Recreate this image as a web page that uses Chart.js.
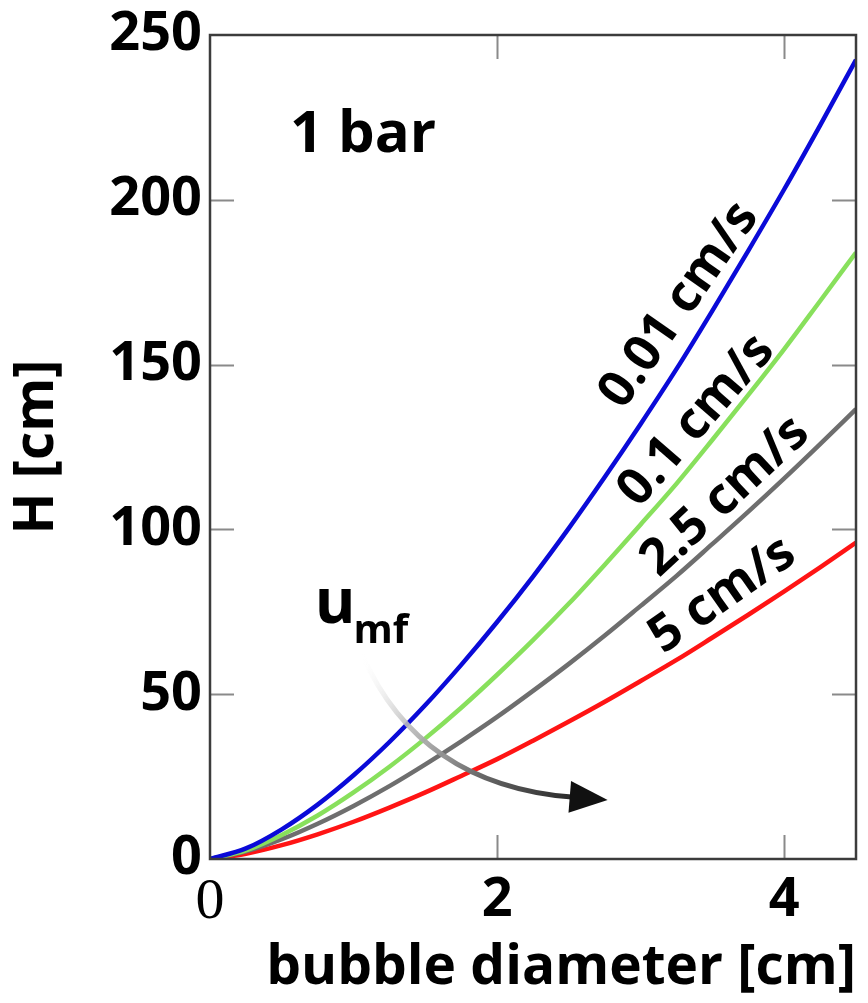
<!DOCTYPE html>
<html>
<head>
<meta charset="utf-8">
<script src="https://cdn.jsdelivr.net/npm/chart.js@4.4.1/dist/chart.umd.min.js"></script>
<style>
  html, body { margin: 0; padding: 0; background: #fff; }
  canvas { display: block; }
</style>
</head>
<body>
<canvas id="chart" width="868" height="1003"></canvas>
<script>
// bubble diameter [cm]
const XS = [0, 0.25, 0.5, 0.75, 1, 1.25, 1.5, 1.75, 2, 2.25, 2.5, 2.75, 3, 3.25, 3.5, 3.75, 4, 4.25, 4.5];
// H [cm] for each u_mf
const H_001 = [0, 3.2, 9.0, 16.5, 25.4, 35.5, 46.7, 58.9, 71.9, 85.7, 100.4, 115.9, 132.0, 148.7, 166.4, 184.6, 203.2, 222.6, 242.5];
const H_01  = [0, 2.6, 7.3, 13.2, 20.2, 28.0, 36.6, 45.9, 55.9, 66.4, 77.5, 89.3, 101.5, 113.9, 127.2, 140.8, 154.7, 169.3, 184];
const H_25  = [0, 2.3, 6.0, 10.7, 16.1, 22.1, 28.7, 35.7, 43.1, 51.0, 59.2, 67.8, 76.8, 85.9, 95.6, 105.4, 115.5, 125.9, 136.5];
const H_5   = [0, 1.6, 4.2, 7.5, 11.3, 15.6, 20.2, 25.2, 30.3, 35.9, 41.7, 47.7, 54.0, 60.4, 67.2, 74.1, 81.2, 88.5, 96];

const SERIES_LABELS = ['0.01 cm/s', '0.1 cm/s', '2.5 cm/s', '5 cm/s'];
const X_TICKS = [0, 2, 4];
const Y_TICKS = [0, 50, 100, 150, 200, 250];

const COLORS = ['#0a0ad8', '#88e05c', '#6e6e6e', '#ff1414'];
// label anchors in data units + rotation (deg)
const LABEL_POS = [[3.27, 168, -55], [3.39, 133, -49], [3.59, 110, -43], [3.57, 80, -35]];

const SANS = '"Open Sans", "Noto Sans", sans-serif';
const pts = ys => XS.map((x, i) => ({ x, y: ys[i] }));

const frame = {
  id: 'frame',
  afterDatasetsDraw(chart) {
    const { ctx, chartArea: a, scales: { x, y } } = chart;
    ctx.save();
    // inner ticks on all four sides
    ctx.strokeStyle = '#8a8a8a';
    ctx.lineWidth = 2;
    ctx.beginPath();
    Y_TICKS.slice(1, -1).forEach(v => {
      const py = Math.round(y.getPixelForValue(v)) + 0.5;
      ctx.moveTo(a.left, py); ctx.lineTo(a.left + 24, py);
      ctx.moveTo(a.right, py); ctx.lineTo(a.right - 24, py);
    });
    X_TICKS.slice(1).forEach(v => {
      const px = Math.round(x.getPixelForValue(v)) + 0.5;
      ctx.moveTo(px, a.bottom); ctx.lineTo(px, a.bottom - 24);
      ctx.moveTo(px, a.top); ctx.lineTo(px, a.top + 24);
    });
    ctx.stroke();

    // u_mf arrow
    const P = (dx, dy) => [x.getPixelForValue(dx), y.getPixelForValue(dy)];
    const s = P(1.06, 62), c = P(1.46, 22.5), e = P(2.52, 18.8);
    const g = ctx.createLinearGradient(s[0], s[1], e[0], e[1]);
    g.addColorStop(0, 'rgba(255,255,255,0)');
    g.addColorStop(0.3, 'rgba(190,190,190,0.9)');
    g.addColorStop(0.65, '#6a6a6a');
    g.addColorStop(1, '#2a2a2a');
    ctx.strokeStyle = g;
    ctx.lineWidth = 5;
    ctx.lineCap = 'round';
    ctx.beginPath();
    ctx.moveTo(s[0], s[1]);
    ctx.quadraticCurveTo(c[0], c[1], e[0], e[1]);
    ctx.stroke();
    const ang = Math.atan2(e[1] - c[1], e[0] - c[0]);
    const tip = [e[0] + 36 * Math.cos(ang), e[1] + 36 * Math.sin(ang)];
    ctx.fillStyle = '#111';
    ctx.beginPath();
    ctx.moveTo(tip[0], tip[1]);
    ctx.lineTo(e[0] - 2 * Math.cos(ang) + 16 * Math.sin(ang), e[1] - 2 * Math.sin(ang) - 16 * Math.cos(ang));
    ctx.lineTo(e[0] - 2 * Math.cos(ang) - 16 * Math.sin(ang), e[1] - 2 * Math.sin(ang) + 16 * Math.cos(ang));
    ctx.closePath();
    ctx.fill();

    // frame
    ctx.strokeStyle = '#3c3c3c';
    ctx.lineWidth = 2.5;
    ctx.strokeRect(a.left, a.top, a.right - a.left, a.bottom - a.top);

    // texts
    ctx.fillStyle = '#000';
    ctx.textAlign = 'center';
    ctx.textBaseline = 'alphabetic';
    ctx.font = 'bold 58px ' + SANS;
    const b = P(1.066, 214.6);
    ctx.fillText('1 bar', b[0], b[1]);

    ctx.textAlign = 'left';
    ctx.font = 'bold 62px ' + SANS;
    const u = P(0.73, 71.5);
    ctx.fillText('u', u[0], u[1]);
    const uw = ctx.measureText('u').width;
    ctx.font = 'bold 40px ' + SANS;
    ctx.fillText('mf', u[0] + uw - 2, u[1] + 20);

    ctx.font = 'bold 51px ' + SANS;
    ctx.textAlign = 'center';
    ctx.textBaseline = 'middle';
    SERIES_LABELS.forEach((t, i) => {
      const [lx, ly, rot] = LABEL_POS[i];
      const p = P(lx, ly);
      ctx.save();
      ctx.translate(p[0], p[1]);
      ctx.rotate(rot * Math.PI / 180);
      ctx.fillText(t, 0, 0);
      ctx.restore();
    });
    ctx.restore();
  }
};

new Chart(document.getElementById('chart'), {
  type: 'line',
  data: {
    datasets: [H_001, H_01, H_25, H_5].map((ys, i) => ({
      label: SERIES_LABELS[i],
      data: pts(ys),
      borderColor: COLORS[i],
      borderWidth: 4.5,
      pointRadius: 0,
      cubicInterpolationMode: 'monotone',
      fill: false,
    })),
  },
  options: {
    responsive: false,
    animation: false,
    layout: { padding: { top: 33, right: 12, left: 0, bottom: 0 } },
    plugins: { legend: { display: false }, tooltip: { enabled: false } },
    scales: {
      x: {
        type: 'linear', min: 0, max: 4.5,
        afterBuildTicks: s => { s.ticks = X_TICKS.map(v => ({ value: v })); },
        afterFit: s => { s.height = 144; },
        grid: { display: false, drawTicks: false },
        border: { display: false },
        ticks: {
          padding: 15,
          color: '#000',
          maxRotation: 0,
          font: c => c.tick && c.tick.value === 0
            ? { family: '"Liberation Serif", "DejaVu Serif", serif', size: 58, weight: 'normal', lineHeight: 1 }
            : { family: SANS, size: 54, weight: 'bold', lineHeight: 1 },
          callback: v => String(v),
        },
        title: {
          display: true, text: 'bubble diameter [cm]', align: 'end', color: '#000',
          font: { family: SANS, size: 55, weight: 'bold' },
          padding: { top: 0, bottom: 2 },
        },
      },
      y: {
        type: 'linear', min: 0, max: 250,
        afterBuildTicks: s => { s.ticks = Y_TICKS.map(v => ({ value: v })); },
        afterFit: s => { s.width = 210; },
        grid: { display: false, drawTicks: false },
        border: { display: false },
        ticks: {
          padding: 8,
          color: '#000',
          font: { family: SANS, size: 54, weight: 'bold', lineHeight: 1 },
          callback: v => String(v),
        },
        title: {
          display: true, text: 'H [cm]', color: '#000',
          font: { family: SANS, size: 55, weight: 'bold' },
          padding: { top: 4, bottom: 0 },
        },
      },
    },
  },
  plugins: [frame],
});
</script>
</body>
</html>
